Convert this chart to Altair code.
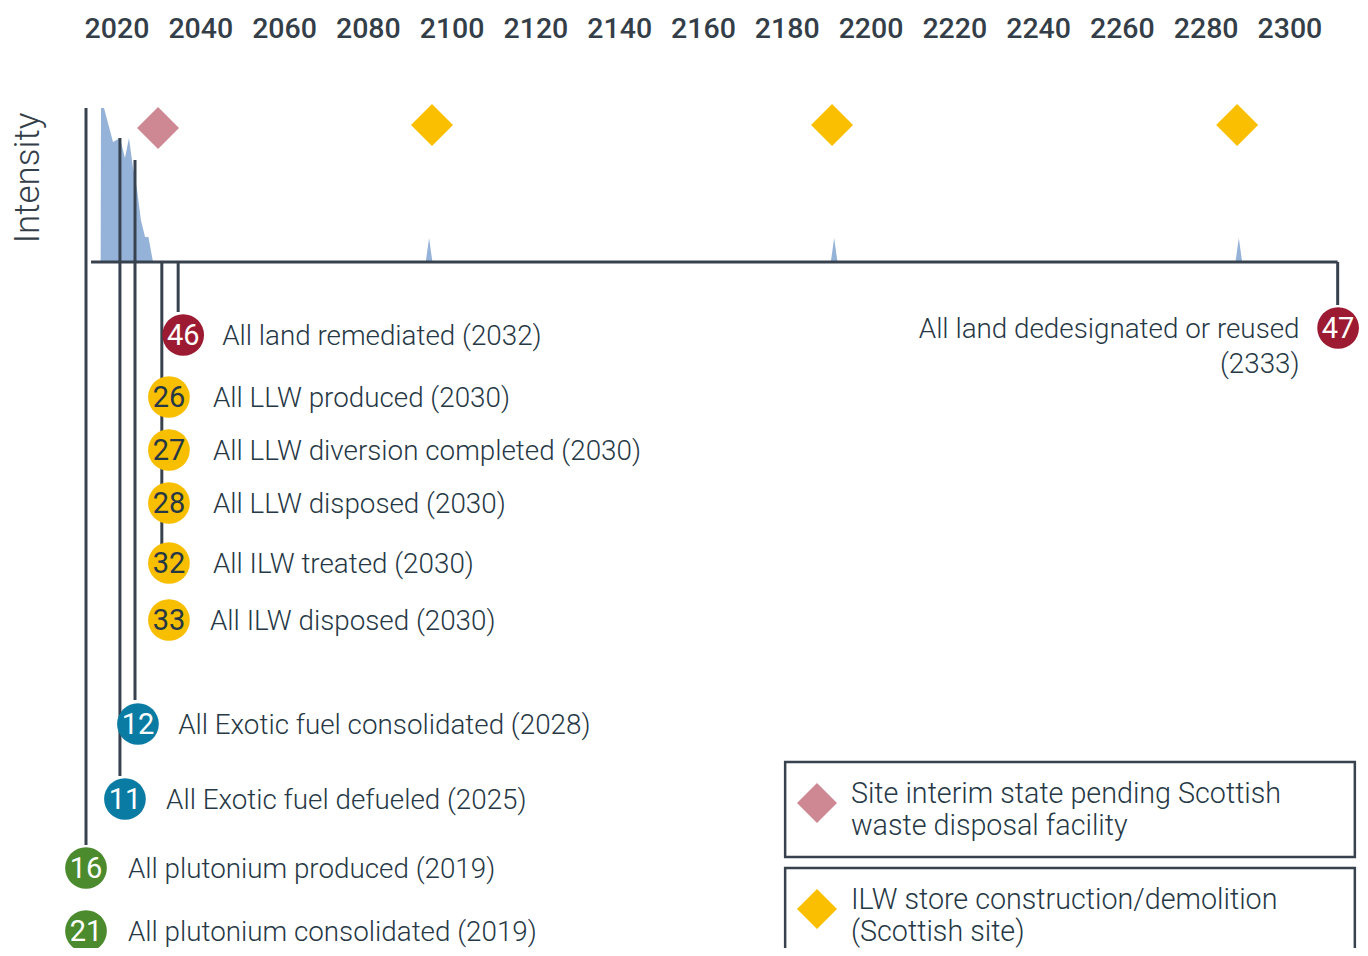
import altair as alt
import pandas as pd

# ---------------- data ----------------
tick_years = [2020, 2040, 2060, 2080, 2100, 2120, 2140, 2160, 2180, 2200, 2220, 2240, 2260, 2280, 2300]

# intensity profile (relative, 0..1)
int_years = [2016.10, 2016.18, 2016.90, 2019.05, 2020.72, 2021.90, 2022.86, 2023.80, 2024.80,
             2025.70, 2026.70, 2027.50, 2028.60,
             2093.70, 2094.50, 2095.30,
             2190.40, 2191.20, 2192.00,
             2287.00, 2287.80, 2288.60, 2311.00]
int_values = [0.0, 1.0, 1.0, 0.78, 0.805, 0.675, 0.805, 0.617, 0.468,
              0.273, 0.162, 0.162, 0.0,
              0.0, 0.156, 0.0,
              0.0, 0.156, 0.0,
              0.0, 0.156, 0.0, 0.0]

# milestones
ms_numbers = ["46", "26", "27", "28", "32", "33", "12", "11", "16", "21", "47"]
ms_labels = ["All land remediated (2032)", "All LLW produced (2030)",
             "All LLW diversion completed (2030)", "All LLW disposed (2030)",
             "All ILW treated (2030)", "All ILW disposed (2030)",
             "All Exotic fuel consolidated (2028)", "All Exotic fuel defueled (2025)",
             "All plutonium produced (2019)", "All plutonium consolidated (2019)", ""]
ms_groups = ["land", "waste", "waste", "waste", "waste", "waste",
             "fuel", "fuel", "plutonium", "plutonium", "land"]
ms_circle_x = [2035.8, 2032.4, 2032.4, 2032.4, 2032.4, 2032.4, 2025.0, 2021.9, 2012.6, 2012.6, 2311.5]
ms_row = [335, 397, 450, 503, 563, 620, 724, 799, 868, 931, 328]
ms_label_x = [2045.1, 2042.9, 2042.9, 2042.9, 2042.9, 2042.2, 2034.6, 2031.7, 2022.6, 2022.6, 2311.5]

right_label_lines = ["All land dedesignated or reused", "(2333)"]
right_label_rows = [328, 363]
right_label_x = [2302.3, 2302.3]

# milestone tracks (vertical connector lines)
track_x = [2012.6, 2020.7, 2024.3, 2030.7, 2034.6, 2311.4]
track_top = [108, 138, 160, 262, 262, 262]
track_bottom = [845, 776, 700, 545, 312, 305]

# timeline base
base_start, base_end, base_row = 2013.8, 2311.4, 262

# events (diamonds)
event_types = ["Site interim state pending Scottish waste disposal facility",
               "ILW store construction/demolition (Scottish site)",
               "ILW store construction/demolition (Scottish site)",
               "ILW store construction/demolition (Scottish site)"]
event_years = [2029.8, 2095.2, 2190.7, 2287.4]
event_rows = [128, 125, 125, 125]

# legend
legend_types = [event_types[0], event_types[1]]
legend_box_x = [2179.5, 2179.5]
legend_box_x2 = [2315.5, 2315.5]
legend_box_top = [762, 868]
legend_box_bottom = [857, 975]
legend_marker_x = [2187.1, 2187.1]
legend_marker_rows = [803, 909]
legend_lines = ["Site interim state pending Scottish", "waste disposal facility",
                "ILW store construction/demolition", "(Scottish site)"]
legend_line_rows = [792, 824, 898, 930]
legend_text_x = 2195.2

# ---------------- styling ----------------
FONT = "Roboto"
DARK = "#37424e"
TEXT = "#263845"
X = alt.Scale(domain=[1993.98, 2316.73], nice=False, zero=False)
Y = alt.Scale(domain=[8, 948], reverse=True, nice=False, zero=False)
YI = alt.Scale(domain=[-4.4545, 1.6494], nice=False, zero=False)

group_scale = alt.Scale(domain=["land", "waste", "fuel", "plutonium"],
                        range=["#9d1b32", "#f8be00", "#0a7ca3", "#4b8a2d"])
num_color_scale = alt.Scale(domain=["land", "waste", "fuel", "plutonium"],
                            range=["#ffffff", TEXT, "#ffffff", "#ffffff"])
event_scale = alt.Scale(domain=legend_types, range=["#ce8894", "#f9bf00"])

df_int = pd.DataFrame({"year": int_years, "value": int_values})
df_ms = pd.DataFrame({"num": ms_numbers, "label": ms_labels, "group": ms_groups,
                      "cx": ms_circle_x, "row": ms_row, "lx": ms_label_x})
df_right = pd.DataFrame({"text": right_label_lines, "row": right_label_rows, "x": right_label_x})
df_tracks = pd.DataFrame({"x": track_x, "top": track_top, "bottom": track_bottom})
df_base = pd.DataFrame({"x": [base_start], "x2": [base_end], "row": [base_row]})
df_events = pd.DataFrame({"type": event_types, "year": event_years, "row": event_rows})
df_ticks = pd.DataFrame({"year": tick_years, "label": [str(t) for t in tick_years], "row": [28] * len(tick_years)})
df_legbox = pd.DataFrame({"x": legend_box_x, "x2": legend_box_x2, "top": legend_box_top, "bottom": legend_box_bottom})
df_legmark = pd.DataFrame({"type": legend_types, "x": legend_marker_x, "row": legend_marker_rows})
df_legtext = pd.DataFrame({"text": legend_lines, "row": legend_line_rows, "x": [legend_text_x] * 4})
df_ytitle = pd.DataFrame({"text": ["Intensity"], "x": [1998.75], "row": [178]})

area = alt.Chart(df_int).mark_area(color="#95b3d8", interpolate="linear").encode(
    x=alt.X("year:Q", scale=X, axis=None),
    y=alt.Y("value:Q", scale=YI, axis=None),
    y2=alt.datum(0),
)

tracks = alt.Chart(df_tracks).mark_rule(color=DARK, strokeWidth=3).encode(
    x=alt.X("x:Q", scale=X, axis=None),
    y=alt.Y("top:Q", scale=Y, axis=None),
    y2="bottom:Q",
)

base = alt.Chart(df_base).mark_rule(color=DARK, strokeWidth=3).encode(
    x=alt.X("x:Q", scale=X, axis=None), x2="x2:Q",
    y=alt.Y("row:Q", scale=Y, axis=None),
)

diamonds = alt.Chart(df_events).mark_point(shape="diamond", filled=True, size=1760, opacity=1).encode(
    x=alt.X("year:Q", scale=X, axis=None),
    y=alt.Y("row:Q", scale=Y, axis=None),
    color=alt.Color("type:N", scale=event_scale, legend=None),
)

ticks = alt.Chart(df_ticks).mark_text(font=FONT, fontSize=28.5, fontWeight=500, color="#333e48",
                                      baseline="middle", align="center", dy=1).encode(
    x=alt.X("year:Q", scale=X, axis=None),
    y=alt.Y("row:Q", scale=Y, axis=None),
    text="label:N",
)

ytitle = alt.Chart(df_ytitle).mark_text(font=FONT, fontSize=35, fontWeight=300, color="#333e48",
                                       angle=270, baseline="middle", align="center").encode(
    x=alt.X("x:Q", scale=X, axis=None),
    y=alt.Y("row:Q", scale=Y, axis=None),
    text="text:N",
)

circles = alt.Chart(df_ms).mark_circle(size=1740, opacity=1).encode(
    x=alt.X("cx:Q", scale=X, axis=None),
    y=alt.Y("row:Q", scale=Y, axis=None),
    color=alt.Color("group:N", scale=group_scale, legend=None),
)

numbers = alt.Chart(df_ms).mark_text(font=FONT, fontSize=29, fontWeight=400,
                                     baseline="middle", align="center", dy=1).encode(
    x=alt.X("cx:Q", scale=X, axis=None),
    y=alt.Y("row:Q", scale=Y, axis=None),
    text="num:N",
    color=alt.Color("group:N", scale=num_color_scale, legend=None),
)

labels = alt.Chart(df_ms).mark_text(font=FONT, fontSize=27.8, fontWeight=300, color=TEXT,
                                    baseline="middle", align="left", dy=2).encode(
    x=alt.X("lx:Q", scale=X, axis=None),
    y=alt.Y("row:Q", scale=Y, axis=None),
    text="label:N",
)

right_labels = alt.Chart(df_right).mark_text(font=FONT, fontSize=27.8, fontWeight=300, color=TEXT,
                                             baseline="middle", align="right", dy=2).encode(
    x=alt.X("x:Q", scale=X, axis=None),
    y=alt.Y("row:Q", scale=Y, axis=None),
    text="text:N",
)

legbox = alt.Chart(df_legbox).mark_rect(fill="white", stroke=DARK, strokeWidth=2.5).encode(
    x=alt.X("x:Q", scale=X, axis=None), x2="x2:Q",
    y=alt.Y("top:Q", scale=Y, axis=None), y2="bottom:Q",
)

legmark = alt.Chart(df_legmark).mark_point(shape="diamond", filled=True, size=1600, opacity=1).encode(
    x=alt.X("x:Q", scale=X, axis=None),
    y=alt.Y("row:Q", scale=Y, axis=None),
    color=alt.Color("type:N", scale=event_scale, legend=None),
)

legtext = alt.Chart(df_legtext).mark_text(font=FONT, fontSize=28.7, fontWeight=300, color=TEXT,
                                          baseline="middle", align="left", dy=2).encode(
    x=alt.X("x:Q", scale=X, axis=None),
    y=alt.Y("row:Q", scale=Y, axis=None),
    text="text:N",
)

chart = alt.layer(
    area, base, tracks, diamonds, ticks, ytitle, circles, numbers, labels, right_labels,
    legbox, legmark, legtext,
).resolve_scale(y="independent", color="independent").properties(
    width=1352, height=940, padding=0, background="white",
    autosize=alt.AutoSizeParams(type="none"),
).configure_view(stroke=None, strokeWidth=0)

chart.save("out.html", embed_options={"renderer": "svg", "actions": False})
